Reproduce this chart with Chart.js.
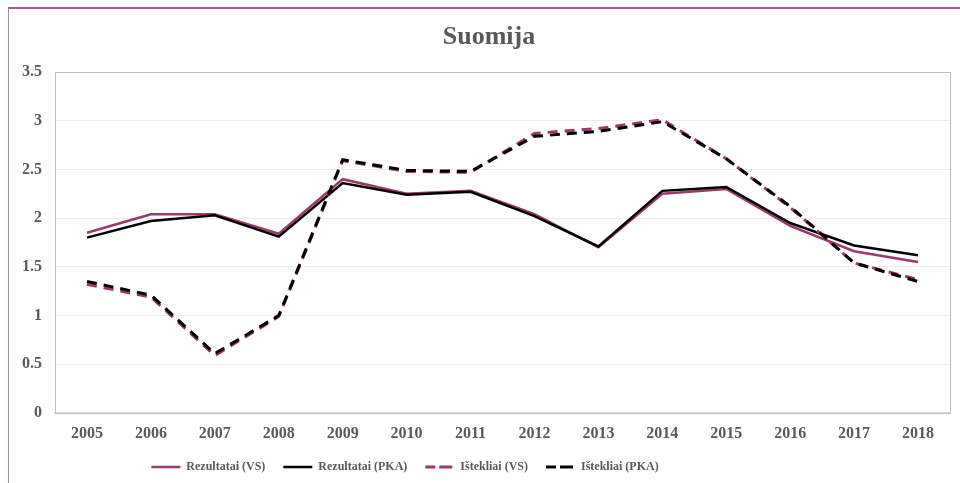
<!DOCTYPE html>
<html>
<head>
<meta charset="utf-8">
<script src="https://cdn.jsdelivr.net/npm/chart.js@4.4.0/dist/chart.umd.min.js"></script>
<style>
  html, body { margin: 0; padding: 0; background: #ffffff; }
  #wrap { position: relative; width: 960px; height: 483px; overflow: hidden; }
  #frame { position: absolute; left: 8px; top: 7px; width: 960px; height: 490px;
           border-top: 2px solid #a45a84; border-left: 1.5px solid #a88c9c; box-sizing: border-box; pointer-events: none; }
  canvas { position: absolute; left: 0; top: 0; }
</style>
</head>
<body>
<div id="wrap">
  <canvas id="c" width="960" height="483"></canvas>
  <div id="frame"></div>
</div>
<script>
const chartTitle = 'Suomija';
const years = ['2005','2006','2007','2008','2009','2010','2011','2012','2013','2014','2015','2016','2017','2018'];
const seriesNames = ['Rezultatai (VS)', 'Rezultatai (PKA)', 'Ištekliai (VS)', 'Ištekliai (PKA)'];
const rezultataiVS  = [1.85, 2.04, 2.04, 1.84, 2.40, 2.25, 2.28, 2.04, 1.70, 2.25, 2.30, 1.92, 1.66, 1.55];
const rezultataiPKA = [1.80, 1.97, 2.03, 1.81, 2.36, 2.24, 2.27, 2.02, 1.71, 2.28, 2.32, 1.95, 1.72, 1.62];
const istekliaiVS   = [1.32, 1.19, 0.59, 0.99, 2.59, 2.48, 2.47, 2.87, 2.92, 3.01, 2.61, 2.11, 1.54, 1.37];
const istekliaiPKA  = [1.35, 1.21, 0.61, 1.00, 2.60, 2.49, 2.48, 2.84, 2.89, 2.99, 2.61, 2.12, 1.54, 1.35];

const PURPLE = '#983a6a';
const BLACK = '#000000';
const TEXT = '#595959';
const FONT = "'Liberation Serif', 'Times New Roman', serif";

const plotBorder = {
  id: 'plotBorder',
  beforeDatasetsDraw(chart) {
    const a = chart.chartArea, ctx = chart.ctx;
    ctx.save();
    ctx.strokeStyle = '#bfbfbf';
    ctx.lineWidth = 1;
    ctx.strokeRect(Math.round(a.left) + 0.5, Math.round(a.top) + 0.5, Math.round(a.right - a.left), Math.round(a.bottom - a.top));
    ctx.restore();
  }
};

// shift title / legend horizontally to match the reference placement
const shiftBoxes = {
  id: 'shiftBoxes',
  afterLayout(chart) {
    const t = chart.titleBlock, l = chart.legend;
    if (t) { t.left += 14; t.right += 14; }
    if (l) { l.left -= 70; l.right -= 70; }
  }
};

function mk(label, data, color, dashed, order) {
  return {
    label, data,
    borderColor: color,
    backgroundColor: 'rgba(0,0,0,0)',
    borderWidth: dashed ? 3 : 2.5,
    borderDash: dashed ? [10, 7] : [],
    borderCapStyle: 'butt',
    pointRadius: 0, pointHoverRadius: 0,
    tension: 0, fill: false, order
  };
}

new Chart(document.getElementById('c'), {
  type: 'line',
  data: {
    labels: years,
    datasets: [
      mk(seriesNames[0], rezultataiVS, PURPLE, false, 4),
      mk(seriesNames[1], rezultataiPKA, BLACK, false, 3),
      mk(seriesNames[2], istekliaiVS, PURPLE, true, 2),
      mk(seriesNames[3], istekliaiPKA, BLACK, true, 1)
    ]
  },
  options: {
    responsive: false,
    animation: false,
    devicePixelRatio: 1,
    layout: { padding: { left: 0, right: 10, top: 0, bottom: 0 } },
    plugins: {
      title: {
        display: true, text: chartTitle, color: TEXT,
        font: { family: FONT, size: 26, weight: 'bold', lineHeight: 1.2 },
        padding: { top: 22, bottom: 18.8 }
      },
      legend: {
        position: 'bottom',
        labels: {
          color: TEXT,
          font: { family: FONT, size: 12, weight: 'bold' },
          boxWidth: 29, boxHeight: 0, padding: 18,
          sort: (a, b) => a.datasetIndex - b.datasetIndex
        }
      },
      tooltip: { enabled: false }
    },
    scales: {
      x: {
        offset: true,
        grid: { display: false, drawTicks: false },
        border: { display: true, color: '#d9d9d9', width: 2 },
        ticks: { color: TEXT, font: { family: FONT, size: 16, weight: 'bold' }, padding: 11, maxRotation: 0 },
        afterFit: (s) => { s.height = 30; }
      },
      y: {
        min: 0, max: 3.5,
        grid: { color: '#ececec', drawTicks: false, lineWidth: 1 },
        border: { display: false },
        ticks: { stepSize: 0.5, color: TEXT, font: { family: FONT, size: 16, weight: 'bold' }, padding: 13,
                 callback: (v) => String(Math.round(v * 10) / 10) },
        afterFit: (s) => { s.width = 55; }
      }
    }
  },
  plugins: [plotBorder, shiftBoxes]
});
</script>
</body>
</html>
